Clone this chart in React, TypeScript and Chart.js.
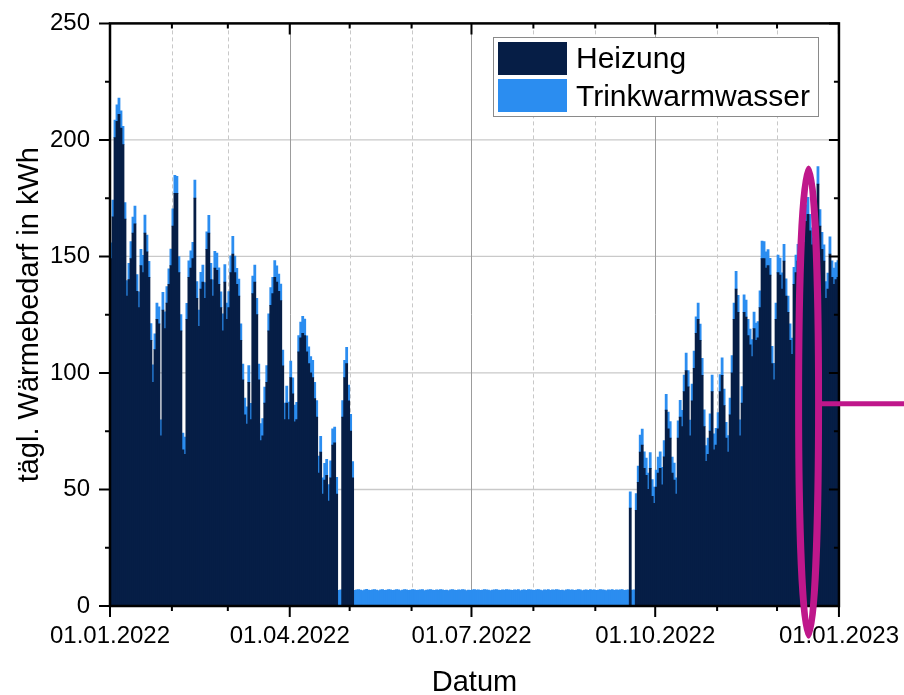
import React, { useEffect, useRef } from 'react';
import { Chart, registerables } from 'chart.js';

Chart.register(...registerables);

const FONT = "'Liberation Sans', Arial, Helvetica, sans-serif";
const HEIZ_COLOR = '#061E46';
const TWW_COLOR = '#2B8DF0';
const ANNOT_COLOR = '#BF178B';

const SERIES_NAMES = ['Heizung', 'Trinkwarmwasser'];
const X_TITLE = 'Datum';
const Y_TITLE = 'tägl. Wärmebedarf in kWh';

// days since 01.01.2022 at which each month starts
const MONTH_START_DAYS = [0, 31, 59, 90, 120, 151, 181, 212, 243, 273, 304, 334, 365];
const MAJOR_TICK_DAYS = [0, 90, 181, 273, 365];
const MAJOR_TICK_LABELS = ['01.01.2022', '01.04.2022', '01.07.2022', '01.10.2022', '01.01.2023'];
const DAYS_IN_YEAR = 365;

const Y_MAX = 250;
const Y_MINOR_STEP = 25;
const Y_LABEL_STEP = 50;

// daily heating demand (kWh), 01.01.2022 ... 31.12.2022
const HEIZUNG = [
  149, 167, 201, 208, 211, 205, 198, 166, 133, 140,
  149, 160, 164, 135, 128, 146, 143, 160, 152, 141,
  114, 96, 110, 123, 121, 73, 127, 119, 130, 138,
  146, 163, 177, 177, 143, 118, 67, 65, 123, 141,
  145, 149, 175, 132, 120, 136, 139, 132, 153, 160,
  140, 133, 145, 144, 138, 128, 118, 139, 123, 128,
  143, 151, 143, 138, 133, 114, 97, 82, 78, 96,
  80, 134, 139, 125, 97, 71, 73, 87, 96, 118,
  129, 134, 141, 139, 135, 131, 103, 80, 87, 80,
  98, 91, 79, 80, 109, 115, 117, 116, 109, 104,
  100, 98, 89, 81, 57, 66, 48, 54, 56, 45,
  55, 69, 70, 48, 0, 0, 81, 98, 104, 88,
  75, 55,
  0, 0, 0, 0, 0, 0, 0, 0, 0, 0, 0, 0, 0, 0, 0, 0, 0, 0, 0, 0, 0, 0, 0,
  0, 0, 0, 0, 0, 0, 0, 0, 0, 0, 0, 0, 0, 0, 0, 0, 0, 0, 0, 0, 0, 0, 0,
  0, 0, 0, 0, 0, 0, 0, 0, 0, 0, 0, 0, 0, 0, 0, 0, 0, 0, 0, 0, 0, 0, 0,
  0, 0, 0, 0, 0, 0, 0, 0, 0, 0, 0, 0, 0, 0, 0, 0, 0, 0, 0, 0, 0, 0, 0,
  0, 0, 0, 0, 0, 0, 0, 0, 0, 0, 0, 0, 0, 0, 0, 0, 0, 0, 0, 0, 0, 0, 0,
  0, 0, 0, 0, 0, 0, 0, 0, 0, 0, 0, 0, 0, 0, 0, 0, 0, 0, 0, 0, 0, 0, 0,
  42, 0, 0,
  41, 53, 66, 69, 59, 56, 50,
  59, 47, 44, 51, 57, 59, 52, 64, 84, 76,
  72, 57, 54, 48, 72, 81, 77, 92, 101, 94,
  73, 88, 102, 117, 123, 114, 99, 77, 62, 65,
  75, 92, 67, 69, 76, 92, 99, 86, 72, 66,
  82, 100, 123, 136, 126, 73, 87, 126, 124, 116,
  112, 107, 119, 114, 115, 128, 149, 149, 145, 146,
  142, 104, 97, 123, 143, 142, 136, 148, 133, 126,
  114, 108, 138, 143, 148, 145, 151, 156, 165, 168,
  161, 155, 158, 163, 181, 163, 153, 148, 132, 136,
  151, 141, 138, 140, 141,
];

// daily domestic hot water demand (kWh)
const TRINKWARMWASSER = [
  6.8, 7.2, 7.5, 7.0, 6.9, 7.4, 7.8, 7.1, 6.6, 7.0,
  7.3, 6.9, 7.6, 7.2, 6.8, 7.0, 7.4, 7.7, 7.1, 6.9,
  7.2, 7.5, 6.8, 7.0, 7.3, 6.9, 7.6, 7.2, 7.0, 6.7,
  7.1, 7.4, 7.8, 7.3, 6.9, 7.0, 7.2, 7.5, 6.8, 7.1,
  7.4, 7.0, 7.7, 7.2, 6.9, 7.1, 7.3, 6.8, 7.5, 7.6,
  7.0, 6.9, 7.2, 7.4, 7.1, 6.8, 7.3, 7.5, 7.0, 6.9,
  7.2, 7.6, 7.1, 6.9, 7.3, 7.0, 6.8, 7.2, 7.4, 7.1,
  6.9, 7.5, 7.3, 7.0, 6.8, 7.2, 7.4, 6.9, 7.1, 7.3,
  7.6, 7.0, 7.2, 6.9, 7.4, 7.1, 6.8, 7.0, 7.3, 7.5,
  7.1, 6.9, 7.2, 7.4, 7.0, 6.8, 7.3, 7.1, 6.9, 7.2,
  7.0, 7.4, 6.9, 7.1, 7.3, 6.8, 7.0, 7.2, 6.9, 7.1,
  7.3, 7.0, 6.8, 7.2, 6.7, 6.9, 7.1, 7.4, 7.0, 6.8,
  7.2, 6.9, 6.7, 6.9, 7.0, 6.8, 6.6, 6.9, 7.1, 6.8,
  6.7, 6.9, 7.0, 6.8, 6.6, 6.9, 7.0, 6.7, 6.8, 7.0,
  6.9, 6.7, 6.8, 7.0, 6.9, 6.6, 6.8, 7.0, 6.9, 6.7,
  6.8, 7.0, 6.9, 6.7, 6.8, 6.9, 7.0, 6.6, 6.8, 6.9,
  7.0, 6.8, 6.7, 6.9, 6.8, 7.0, 6.9, 6.7, 6.8, 6.6,
  6.9, 7.0, 6.8, 6.7, 6.9, 6.8, 7.0, 6.9, 6.6, 6.8,
  6.7, 6.9, 7.0, 6.8, 6.9, 6.7, 6.8, 7.0, 6.9, 6.8,
  6.6, 6.8, 6.9, 7.0, 6.8, 6.7, 6.9, 6.8, 7.0, 6.9,
  6.8, 6.7, 6.9, 6.8, 7.0, 6.6, 6.8, 6.9, 6.7, 7.0,
  6.9, 6.8, 6.7, 6.9, 7.0, 6.8, 6.6, 6.9, 6.8, 7.0,
  6.7, 6.9, 6.8, 7.0, 6.9, 6.7, 6.8, 6.6, 6.9, 7.0,
  6.8, 6.9, 6.7, 6.8, 7.0, 6.9, 6.6, 6.8, 6.9, 6.7,
  7.0, 6.8, 6.9, 6.7, 6.8, 7.0, 6.9, 6.8, 6.6, 6.9,
  6.8, 7.0, 6.7, 6.9, 6.8, 6.9, 7.0, 6.7, 6.8, 6.9,
  7.0, 6.8, 6.9, 7.2, 7.0, 7.3, 6.9, 7.1, 7.4, 7.0,
  6.8, 7.2, 7.0, 7.3, 6.9, 7.1, 7.5, 7.0, 6.8, 7.2,
  7.1, 6.9, 7.3, 7.0, 7.4, 7.2, 6.9, 7.1, 7.5, 7.0,
  6.8, 7.2, 7.4, 7.1, 7.0, 6.9, 7.3, 7.2, 6.8, 7.0,
  7.4, 7.1, 6.9, 7.2, 7.0, 7.3, 7.5, 7.0, 6.8, 7.1,
  7.2, 7.4, 7.0, 7.6, 7.3, 6.9, 7.1, 7.5, 7.2, 7.0,
  6.8, 7.3, 7.1, 7.4, 7.0, 7.2, 7.6, 7.3, 7.0, 6.9,
  7.2, 7.4, 7.1, 7.0, 7.5, 7.3, 6.9, 7.2, 7.4, 7.0,
  7.1, 6.9, 7.3, 7.5, 7.2, 7.0, 7.4, 7.6, 7.1, 7.3,
  7.0, 7.2, 7.4, 6.9, 7.5, 7.1, 7.3, 7.0, 7.2, 6.8,
  7.4, 7.1, 7.0, 7.3, 7.2,
];

// hand-drawn highlight (in data units: days / kWh)
const MARK_CENTER_DAY = 349.8;
const MARK_CENTER_KWH = 87.5;
const MARK_HALF_DAYS = 5;
const MARK_HALF_KWH = 100;
const MARK_LINE_KWH = 86.8;

const framePlugin = {
  id: 'originFrame',
  beforeDatasetsDraw(chart: any) {
    const { ctx, chartArea: a, scales } = chart;
    const x = scales.x;
    const y = scales.y;
    ctx.save();
    ctx.strokeStyle = '#c9c9c9';
    ctx.lineWidth = 1.3;
    for (let v = Y_LABEL_STEP; v < Y_MAX; v += Y_LABEL_STEP) {
      const py = y.getPixelForValue(v);
      ctx.beginPath();
      ctx.moveTo(a.left, py);
      ctx.lineTo(a.right, py);
      ctx.stroke();
    }
    for (const d of MONTH_START_DAYS) {
      if (d === 0 || d === DAYS_IN_YEAR) continue;
      const px = Math.round(x.getPixelForValue(d)) + 0.5;
      ctx.beginPath();
      if (MAJOR_TICK_DAYS.includes(d)) {
        ctx.setLineDash([]);
        ctx.strokeStyle = '#9c9c9c';
        ctx.lineWidth = 1;
      } else {
        ctx.setLineDash([4, 3]);
        ctx.strokeStyle = '#c8c8c8';
        ctx.lineWidth = 1;
      }
      ctx.moveTo(px, a.top);
      ctx.lineTo(px, a.bottom);
      ctx.stroke();
    }
    ctx.restore();
  },
  afterDraw(chart: any) {
    const { ctx, chartArea: a, scales } = chart;
    const x = scales.x;
    const y = scales.y;
    ctx.save();
    ctx.setLineDash([]);
    ctx.strokeStyle = '#000';
    // ticks
    ctx.lineWidth = 2;
    for (const d of MONTH_START_DAYS) {
      const px = x.getPixelForValue(d);
      const major = MAJOR_TICK_DAYS.includes(d);
      ctx.beginPath();
      ctx.moveTo(px, a.bottom);
      ctx.lineTo(px, a.bottom + (major ? 11 : 5));
      ctx.moveTo(px, a.top);
      ctx.lineTo(px, a.top + (major ? 11 : 5));
      ctx.stroke();
    }
    for (let v = 0; v <= Y_MAX; v += Y_MINOR_STEP) {
      const py = y.getPixelForValue(v);
      const major = v % Y_LABEL_STEP === 0;
      ctx.beginPath();
      ctx.moveTo(a.left - (major ? 11 : 5), py);
      ctx.lineTo(a.left, py);
      ctx.moveTo(a.right, py);
      ctx.lineTo(a.right - (major ? 10 : 5), py);
      ctx.stroke();
    }
    // frame
    ctx.lineWidth = 2.5;
    ctx.strokeRect(a.left, a.top, a.right - a.left, a.bottom - a.top);

    // legend
    const lx = 493.5, ly = 37.5, lw = 325, lh = 79;
    ctx.fillStyle = '#fff';
    ctx.fillRect(lx, ly, lw, lh);
    ctx.strokeStyle = '#8a8a8a';
    ctx.lineWidth = 1;
    ctx.strokeRect(lx, ly, lw, lh);
    ctx.fillStyle = HEIZ_COLOR;
    ctx.fillRect(498, 42, 69, 33);
    ctx.fillStyle = TWW_COLOR;
    ctx.fillRect(498, 79, 69, 33);
    ctx.fillStyle = '#000';
    ctx.font = `30px ${FONT}`;
    ctx.textAlign = 'left';
    ctx.textBaseline = 'alphabetic';
    ctx.fillText(SERIES_NAMES[0], 576, 68);
    ctx.fillText(SERIES_NAMES[1], 576, 105.5);

    // highlight ellipse + pointer line
    const cx = x.getPixelForValue(MARK_CENTER_DAY);
    const cy = y.getPixelForValue(MARK_CENTER_KWH);
    const rx = Math.abs(x.getPixelForValue(MARK_CENTER_DAY + MARK_HALF_DAYS) - cx);
    const ry = Math.abs(y.getPixelForValue(MARK_CENTER_KWH + MARK_HALF_KWH) - cy);
    ctx.strokeStyle = ANNOT_COLOR;
    ctx.lineWidth = 7;
    ctx.beginPath();
    ctx.ellipse(cx, cy, rx, ry, 0, 0, Math.PI * 2);
    ctx.stroke();
    const ly2 = y.getPixelForValue(MARK_LINE_KWH);
    ctx.lineWidth = 5;
    ctx.beginPath();
    ctx.moveTo(cx + rx + 2, ly2);
    ctx.lineTo(chart.width, ly2);
    ctx.stroke();
    ctx.restore();
  },
};

export default function App() {
  const canvasRef = useRef<HTMLCanvasElement | null>(null);

  useEffect(() => {
    if (!canvasRef.current) return;
    Chart.defaults.font.family = FONT;
    Chart.defaults.color = '#000';
    const heizData = HEIZUNG.map((v, i) => ({ x: i + 0.5, y: v }));
    const twwData = TRINKWARMWASSER.map((v, i) => ({ x: i + 0.5, y: v }));
    const chart = new Chart(canvasRef.current, {
      type: 'bar',
      data: {
        datasets: [
          {
            label: SERIES_NAMES[0],
            data: heizData,
            backgroundColor: HEIZ_COLOR,
            borderWidth: 0,
            barPercentage: 1,
            categoryPercentage: 1,
            inflateAmount: 0.4,
          },
          {
            label: SERIES_NAMES[1],
            data: twwData,
            backgroundColor: TWW_COLOR,
            borderWidth: 0,
            barPercentage: 1,
            categoryPercentage: 1,
            inflateAmount: 0.4,
          },
        ],
      },
      options: {
        responsive: false,
        animation: false,
        devicePixelRatio: 1,
        layout: { padding: { left: 0, right: 65, top: 20, bottom: 0 } },
        plugins: { legend: { display: false }, tooltip: { enabled: false } },
        scales: {
          x: {
            type: 'linear',
            stacked: true,
            offset: false,
            min: 0,
            max: DAYS_IN_YEAR,
            grid: { display: false, drawTicks: true, tickLength: 11, offset: false },
            border: { display: false },
            afterBuildTicks: (scale: any) => {
              scale.ticks = MONTH_START_DAYS.map((v) => ({ value: v }));
            },
            afterFit: (scale: any) => {
              scale.height = 89;
            },
            ticks: {
              autoSkip: false,
              maxRotation: 0,
              minRotation: 0,
              padding: 5,
              color: '#000',
              font: { size: 24, family: FONT },
              callback: (value: any) => {
                const i = MAJOR_TICK_DAYS.indexOf(Number(value));
                return i >= 0 ? MAJOR_TICK_LABELS[i] : '';
              },
            },
            title: {
              display: true,
              text: X_TITLE,
              color: '#000',
              font: { size: 29, family: FONT, lineHeight: 1 },
              padding: { top: 0, bottom: -2.5 },
            },
          },
          y: {
            type: 'linear',
            stacked: true,
            min: 0,
            max: Y_MAX,
            grid: { display: false, drawTicks: true, tickLength: 11 },
            border: { display: false },
            afterFit: (scale: any) => {
              scale.width = 110;
            },
            ticks: {
              stepSize: Y_MINOR_STEP,
              autoSkip: false,
              padding: 9,
              color: '#000',
              font: { size: 24, family: FONT },
              callback: (value: any) => (Number(value) % Y_LABEL_STEP === 0 ? String(value) : ''),
            },
            title: {
              display: true,
              text: Y_TITLE,
              color: '#000',
              font: { size: 29, family: FONT, lineHeight: 1.2 },
              padding: { top: 13, bottom: 0 },
            },
          },
        },
      },
      plugins: [framePlugin],
    });
    return () => chart.destroy();
  }, []);

  return (
    <div style={{ position: 'absolute', left: 0, top: 0, width: 904, height: 695, background: '#fff' }}>
      <canvas ref={canvasRef} width={904} height={695} style={{ display: 'block' }} />
    </div>
  );
}
